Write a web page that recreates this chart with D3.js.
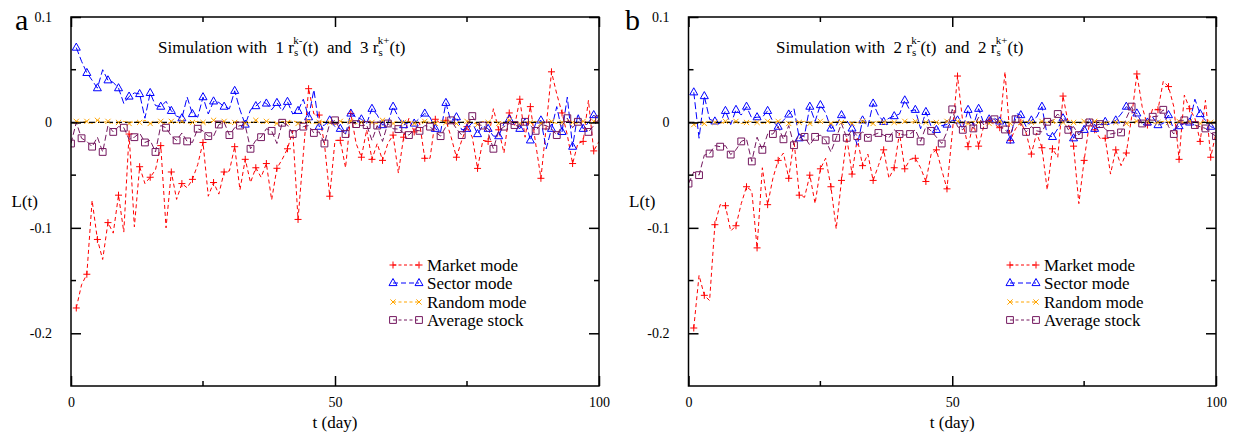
<!DOCTYPE html>
<html><head><meta charset="utf-8">
<script src="https://cdn.jsdelivr.net/npm/d3@7"></script>
<style>
body{margin:0;background:#fff}
svg{display:block}
svg text{font-family:'Liberation Serif','Times New Roman','DejaVu Serif',serif !important;fill:#000}
</style>
</head><body>
<svg id="chart" width="1237" height="434"></svg>
<script>
// ---------- data ----------
const seriesNames = ["Market mode","Sector mode","Random mode","Average stock"];
const xTickValues = [0, 50, 100];
const xMinorTicks = [25, 75];
const yTickValues = [0.1, 0, -0.1, -0.2];
const yTickLabels = ["0.1", "0", "-0.1", "-0.2"];
const yMinorTicks = [0.05, -0.05, -0.15];
const panelLetters = ["a", "b"];
const titleCounts = [[1, 3], [2, 2]];

// first day of each series (market/sector/random start at day 1, average stock at day 0)
const seriesStartDay = [1, 1, 1, 0];

// Panel a
const marketA = [-0.176,-0.154,-0.144,-0.074,-0.111,-0.130,-0.095,-0.105,-0.069,-0.104,
 -0.011,-0.099,-0.042,-0.058,-0.052,-0.045,-0.022,-0.100,-0.047,-0.073,
 -0.058,-0.062,-0.054,-0.040,-0.019,-0.070,-0.057,-0.068,-0.047,-0.046,
 -0.023,-0.064,-0.035,-0.057,-0.043,-0.052,-0.039,-0.0735,-0.0435,-0.035,
 -0.025,-0.008,-0.092,-0.030,0.032,0.008,0.007,-0.020,-0.070,-0.017,
 -0.017,-0.043,0.0085,-0.020,-0.033,-0.007,-0.035,-0.020,-0.036,-0.020,
 -0.012,-0.048,-0.014,0.004,-0.009,0.000,-0.034,-0.034,0.003,-0.001,
 0.002,-0.014,-0.033,-0.017,-0.004,-0.014,-0.0436,-0.017,-0.018,0.013,
 -0.007,-0.029,0.009,-0.004,0.022,-0.014,0.015,-0.020,-0.053,-0.004,
 0.048,0.027,0.009,-0.012,-0.039,-0.020,-0.018,0.021,-0.027,-0.018];
const sectorA = [0.071,0.058,0.047,0.040,0.0325,0.050,0.040,0.038,0.0325,0.018,
 0.0246,0.028,0.027,0.004,0.028,0.016,0.015,0.020,0.011,0.006,
 0.004,0.024,0.008,0.005,0.024,0.008,0.020,0.019,0.015,0.013,
 0.030,0.012,-0.002,0.012,0.0155,0.020,0.018,0.012,0.0186,0.011,
 0.0196,0.008,0.011,0.022,0.005,0.031,-0.004,-0.0025,0.002,-0.004,
 -0.006,-0.011,0.0085,0.005,0.003,-0.001,0.013,0.007,-0.0025,-0.001,
 0.015,0.005,-0.0025,0.000,-0.001,0.004,0.0085,0.005,-0.006,-0.009,
 0.0186,0.000,0.005,-0.007,-0.006,0.000,-0.011,-0.003,-0.006,-0.013,
 -0.013,-0.001,0.003,-0.002,-0.006,0.004,-0.017,-0.001,0.002,-0.025,
 -0.006,0.015,-0.009,0.024,-0.023,0.0085,-0.006,0.000,0.007,0.002];
const randomA = [0.001,0.000,0.001,-0.001,0.002,0.000,0.001,-0.001,0.000,0.001,
 -0.001,0.001,0.000,0.002,-0.001,0.000,0.001,-0.002,0.001,0.000,
 0.001,-0.001,0.000,0.001,0.000,-0.001,0.002,0.000,0.001,-0.001,
 0.000,0.001,-0.001,0.000,0.002,-0.001,0.001,0.000,-0.001,0.001,
 0.000,0.002,-0.001,0.000,0.001,-0.001,0.000,0.001,0.000,-0.002,
 0.001,0.000,0.001,-0.001,0.000,0.001,0.000,-0.001,0.002,0.000,
 -0.001,0.001,0.000,0.001,-0.001,0.000,0.001,0.000,-0.001,0.002,
 0.000,0.001,-0.001,0.000,0.001,0.000,-0.002,0.001,0.000,0.001,
 -0.001,0.000,0.002,0.000,-0.001,0.001,0.000,0.001,-0.001,0.000,
 0.001,-0.001,0.000,0.002,0.000,-0.001,0.001,0.000,0.001,0.000];
const averageA = [-0.020,0.000,-0.015,-0.018,-0.023,-0.014,-0.028,-0.003,-0.009,-0.004,
 -0.005,-0.016,-0.014,-0.010,-0.019,-0.017,-0.028,-0.003,-0.005,-0.013,
 -0.017,-0.010,-0.018,-0.019,-0.006,-0.008,-0.013,-0.013,-0.002,0.000,
 -0.012,-0.005,-0.003,-0.003,-0.025,-0.017,-0.014,-0.006,-0.008,-0.020,
 -0.0003,-0.0025,-0.011,-0.007,-0.004,-0.003,-0.010,-0.009,-0.020,-0.001,
 0.002,-0.007,-0.011,0.000,-0.0016,-0.003,-0.0025,-0.017,-0.003,-0.018,
 -0.001,-0.006,-0.0063,-0.010,-0.012,-0.007,-0.008,-0.003,-0.004,-0.009,
 -0.013,-0.004,0.002,-0.006,-0.012,-0.003,0.006,-0.002,-0.003,-0.010,
 -0.025,-0.008,-0.004,-0.001,-0.0025,-0.004,0.0006,-0.003,-0.008,-0.002,
 -0.003,-0.006,-0.012,-0.003,0.004,-0.005,0.0006,-0.002,-0.009,-0.003,0.003];

// Panel b
const marketB = [-0.195,-0.145,-0.164,-0.169,-0.097,-0.078,-0.079,-0.103,-0.098,-0.077,
 -0.061,-0.065,-0.119,-0.043,-0.078,-0.053,-0.036,-0.029,-0.053,-0.017,
 -0.069,-0.071,-0.050,-0.077,-0.044,-0.034,-0.061,-0.101,-0.055,-0.014,
 -0.049,-0.015,-0.041,-0.030,-0.055,-0.041,-0.026,-0.053,-0.043,-0.010,
 -0.044,-0.035,-0.034,-0.043,-0.056,-0.030,-0.026,-0.045,-0.063,-0.010,
 0.044,0.000,-0.023,0.000,-0.0225,-0.003,0.002,-0.002,-0.005,0.048,
 -0.017,-0.006,0.000,-0.010,-0.030,-0.010,-0.024,-0.064,-0.025,-0.033,
 0.025,-0.001,-0.0225,-0.077,-0.036,-0.001,-0.007,-0.015,-0.015,-0.049,
 -0.026,-0.041,-0.029,0.005,0.046,0.015,-0.0025,0.013,0.012,0.039,
 0.034,0.015,-0.035,0.026,0.013,0.004,-0.018,0.021,-0.033,-0.010];
const sectorB = [0.0286,-0.015,0.025,0.003,0.001,-0.001,0.011,-0.002,0.012,0.007,
 0.015,0.004,0.005,0.005,0.011,0.001,-0.004,0.002,0.0076,0.013,
 -0.015,-0.012,0.015,0.001,0.0165,0.009,-0.0057,-0.003,0.007,0.002,
 -0.0057,-0.0216,0.002,-0.004,0.018,0.007,0.0006,0.004,0.006,0.008,
 0.021,0.011,0.012,-0.006,0.010,-0.004,-0.007,-0.003,-0.002,0.002,
 0.002,-0.006,0.012,-0.003,0.013,-0.001,0.003,0.004,0.001,0.001,
 -0.017,0.0086,0.007,-0.004,0.002,0.005,0.015,-0.012,-0.0137,-0.006,
 0.004,0.001,-0.015,-0.009,-0.007,0.004,-0.006,-0.004,0.0006,-0.001,
 0.002,0.008,0.015,0.010,0.0086,-0.001,0.000,0.005,-0.0025,-0.001,
 0.007,-0.007,-0.0035,-0.001,0.000,0.022,0.008,0.002,-0.004,-0.006];
const randomB = [-0.002,0.000,-0.001,0.001,0.000,-0.001,0.001,0.000,0.001,-0.001,
 0.000,0.001,0.000,-0.001,0.001,0.000,0.001,0.000,-0.001,0.001,
 0.000,0.001,-0.001,0.000,0.001,0.000,-0.001,0.001,0.000,0.001,
 -0.001,0.000,0.001,0.000,-0.001,0.001,0.000,0.001,0.000,-0.001,
 0.001,0.000,0.001,-0.001,0.000,0.001,0.000,-0.001,0.001,0.000,
 0.001,0.000,-0.001,0.001,0.000,0.001,-0.001,0.000,0.001,0.000,
 -0.001,0.001,0.000,0.001,0.000,-0.001,0.001,0.000,0.001,-0.001,
 0.000,0.002,0.000,-0.001,0.001,0.000,0.001,0.000,-0.001,0.001,
 0.000,0.001,-0.001,0.000,0.001,0.000,0.001,-0.001,0.000,0.001,
 0.000,-0.001,0.001,0.000,0.001,0.000,-0.001,0.001,0.000,0.001];
const averageB = [-0.058,-0.047,-0.050,-0.031,-0.0295,-0.022,-0.023,-0.022,-0.0305,-0.026,
 -0.018,-0.016,-0.037,-0.014,-0.026,-0.011,-0.011,-0.004,-0.016,-0.003,
 -0.0216,-0.011,-0.0137,-0.0216,-0.0137,-0.012,-0.017,-0.028,-0.0146,-0.001,
 -0.0146,-0.007,-0.013,-0.009,-0.0146,-0.012,-0.010,-0.012,-0.0146,-0.007,
 -0.011,-0.012,-0.011,-0.007,-0.018,-0.004,-0.008,-0.014,-0.020,-0.009,
 0.0124,-0.004,-0.007,0.001,-0.0057,0.005,-0.0025,0.004,0.003,-0.004,
 -0.0067,-0.012,0.003,-0.001,-0.009,-0.004,-0.008,-0.009,0.0006,0.002,
 0.008,0.002,-0.007,-0.004,-0.012,-0.005,0.000,-0.003,-0.0016,-0.006,
 -0.011,-0.010,-0.0095,0.004,0.015,0.003,-0.001,0.002,0.0054,0.006,
 0.012,-0.004,-0.011,0.002,0.002,-0.001,-0.0025,-0.004,-0.0057,-0.010,-0.013];

const panelsData = [
  [marketA, sectorA, randomA, averageA],
  [marketB, sectorB, randomB, averageB]
];

// ---------- styles ----------
const FONT = "'Liberation Serif','Times New Roman','DejaVu Serif',serif";
const colors = ["#ff0000", "#0000ff", "#ffa500", "#74185f"];
const dashes = ["4,3", "7,3", "4,3", "6,3"];
const symbols = ["plus", "triangle", "cross", "square"];

const W = 1237, H = 434;
const svg = d3.select("#chart");
svg.append("rect").attr("width", W).attr("height", H).attr("fill", "#fff");

const panelLayout = [
  {left: 71, right: 599, legendX: 393, letterX: 15, titleX: 158},
  {left: 688.5, right: 1216, legendX: 1010, letterX: 625, titleX: 776}
];
const plotTop = 17, plotBottom = 386;

function symbolPath(type) {
  if (type === "plus") return "M-3.5,0H3.5M0,-3.5V3.5";
  if (type === "triangle") return "M0,-4.5L4,2.6L-4,2.6Z";
  if (type === "cross") return "M-2.6,-2.6L2.6,2.6M-2.6,2.6L2.6,-2.6";
  return "M-3.4,-3.4H3.4V3.4H-3.4Z";
}

function addText(sel, x, y, size, str, anchor) {
  return sel.append("text").attr("x", x).attr("y", y)
    .attr("font-size", size).attr("font-family", FONT).style("font-family", FONT)
    .attr("text-anchor", anchor || "start").text(str);
}

panelsData.forEach((series, p) => {
  const L = panelLayout[p];
  const x = d3.scaleLinear().domain([0, 100]).range([L.left, L.right]);
  const y = d3.scaleLinear().domain([-0.25, 0.1]).range([plotBottom, plotTop]);
  const g = svg.append("g");

  const clipId = "clip" + p;
  svg.append("clipPath").attr("id", clipId).append("rect")
    .attr("x", L.left).attr("y", plotTop).attr("width", L.right - L.left).attr("height", plotBottom - plotTop);
  const plot = g.append("g").attr("clip-path", `url(#${clipId})`);

  [0, 1, 2, 3].forEach(si => {
    const vals = series[si];
    const pts = vals.map((v, i) => [seriesStartDay[si] + i, v]);
    const line = d3.line().x(d => x(d[0])).y(d => y(d[1]));
    plot.append("path").attr("d", line(pts))
      .attr("fill", "none").attr("stroke", colors[si]).attr("stroke-width", 1)
      .attr("stroke-dasharray", dashes[si]);
    if (si === 2) {
      plot.append("line").attr("x1", x(0)).attr("x2", x(100)).attr("y1", y(0)).attr("y2", y(0))
        .attr("stroke", "#000").attr("stroke-width", 1.3).attr("stroke-dasharray", "6,3");
    }
    plot.selectAll(null).data(pts.filter((d, i) => i % 2 === 0)).enter()
      .append("path").attr("d", symbolPath(symbols[si]))
      .attr("transform", d => `translate(${x(d[0])},${y(d[1])})`)
      .attr("fill", "none").attr("stroke", colors[si]).attr("stroke-width", 1);
  });

  g.append("rect").attr("x", L.left).attr("y", plotTop)
    .attr("width", L.right - L.left).attr("height", plotBottom - plotTop)
    .attr("fill", "none").attr("stroke", "#000").attr("stroke-width", 1.5);

  const axL = d3.axisLeft(y).tickValues(yTickValues).tickSize(-10).tickPadding(19)
    .tickFormat((d, i) => yTickLabels[i]);
  const gl = g.append("g").attr("transform", `translate(${L.left},0)`).call(axL);
  gl.attr("font-family", FONT);
  gl.select(".domain").remove();
  gl.selectAll(".tick line").attr("stroke", "#000").attr("stroke-width", 1.5);
  gl.selectAll(".tick text").attr("font-size", 14).style("font-family", FONT).attr("fill", "#000");

  const axR = d3.axisRight(y).tickValues(yTickValues).tickSize(-10).tickFormat("");
  const gr = g.append("g").attr("transform", `translate(${L.right},0)`).call(axR);
  gr.select(".domain").remove();
  gr.selectAll(".tick line").attr("stroke", "#000").attr("stroke-width", 1.5);

  yMinorTicks.forEach(v => {
    g.append("line").attr("x1", L.left).attr("x2", L.left + 5).attr("y1", y(v)).attr("y2", y(v))
      .attr("stroke", "#000").attr("stroke-width", 1.5);
    g.append("line").attr("x1", L.right).attr("x2", L.right - 5).attr("y1", y(v)).attr("y2", y(v))
      .attr("stroke", "#000").attr("stroke-width", 1.5);
  });

  const axB = d3.axisBottom(x).tickValues(xTickValues).tickSize(-10).tickPadding(11).tickFormat(d3.format("d"));
  const gb = g.append("g").attr("transform", `translate(0,${plotBottom})`).call(axB);
  gb.attr("font-family", FONT);
  gb.select(".domain").remove();
  gb.selectAll(".tick line").attr("stroke", "#000").attr("stroke-width", 1.5);
  gb.selectAll(".tick text").attr("font-size", 14).style("font-family", FONT).attr("fill", "#000");

  const axT = d3.axisTop(x).tickValues(xTickValues).tickSize(-10).tickFormat("");
  const gt = g.append("g").attr("transform", `translate(0,${plotTop})`).call(axT);
  gt.select(".domain").remove();
  gt.selectAll(".tick line").attr("stroke", "#000").attr("stroke-width", 1.5);

  xMinorTicks.forEach(v => {
    g.append("line").attr("x1", x(v)).attr("x2", x(v)).attr("y1", plotBottom).attr("y2", plotBottom - 5)
      .attr("stroke", "#000").attr("stroke-width", 1.5);
    g.append("line").attr("x1", x(v)).attr("x2", x(v)).attr("y1", plotTop).attr("y2", plotTop + 5)
      .attr("stroke", "#000").attr("stroke-width", 1.5);
  });

  addText(g, x(50), 428, 17, "t (day)", "middle");
  addText(g, L.left - 33, 207, 17, "L(t)", "end");
  addText(g, L.letterX, 30, 30, panelLetters[p]);

  const t = addText(g, L.titleX, 53, 17, "").attr("xml:space", "preserve");
  const [n1, n2] = titleCounts[p];
  t.append("tspan").text(`Simulation with  ${n1} r`);
  t.append("tspan").attr("font-size", 11).attr("dy", 3).text("s");
  t.append("tspan").attr("font-size", 11).attr("dx", -5).attr("dy", -12).text("k-");
  t.append("tspan").attr("dy", 9).attr("dx", 0).text(`(t)  and  ${n2} r`);
  t.append("tspan").attr("font-size", 11).attr("dy", 3).text("s");
  t.append("tspan").attr("font-size", 11).attr("dx", -5).attr("dy", -12).text("k+");
  t.append("tspan").attr("dy", 9).attr("dx", 0).text("(t)");

  const legRows = [265, 283, 302, 320];
  seriesNames.forEach((name, si) => {
    const ly = legRows[si];
    const lx0 = L.legendX, lx1 = L.legendX + 26;
    g.append("line").attr("x1", lx0).attr("x2", lx1).attr("y1", ly).attr("y2", ly)
      .attr("stroke", colors[si]).attr("stroke-width", 1).attr("stroke-dasharray", si === 1 ? "5,3" : "3,2.5");
    [lx0, lx1].forEach(px => {
      g.append("path").attr("d", symbolPath(symbols[si]))
        .attr("transform", `translate(${px},${ly})`)
        .attr("fill", "none").attr("stroke", colors[si]).attr("stroke-width", 1);
    });
    addText(g, L.legendX + 34, ly + 5.5, 17, name);
  });
});
</script>
</body></html>
